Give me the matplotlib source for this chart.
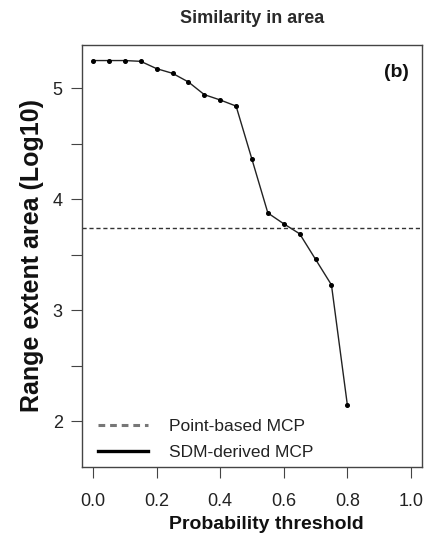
import matplotlib
matplotlib.use("Agg")
import matplotlib.pyplot as plt
from matplotlib.lines import Line2D

plt.rcParams['font.family'] = ['Liberation Sans', 'DejaVu Sans']

# Probability thresholds and SDM-derived MCP range extent (log10 area)
thresholds = [0.00, 0.05, 0.10, 0.15, 0.20, 0.25, 0.30, 0.35, 0.40, 0.45,
              0.50, 0.55, 0.60, 0.65, 0.70, 0.75, 0.80]
sdm_area = [5.25, 5.25, 5.25, 5.243, 5.177, 5.135, 5.057, 4.943, 4.895, 4.84,
            4.36, 3.877, 3.78, 3.69, 3.46, 3.23, 2.15]
# Point-based MCP range extent (log10 area)
point_mcp = 3.74

x_ticks = [0.0, 0.2, 0.4, 0.6, 0.8, 1.0]
x_tick_labels = ["0.0", "0.2", "0.4", "0.6", "0.8", "1.0"]
y_ticks = [2, 3, 4, 5]
y_minor = [2.5, 3.5, 4.5]
legend_labels = ["Point-based MCP", "SDM-derived MCP"]

fig = plt.figure(figsize=(4.24, 5.39), dpi=100)
ax = fig.add_axes([0.194, 0.1336, 0.8006, 0.7829])

ax.plot(thresholds, sdm_area, color='#222222', lw=1.0, marker='o', ms=2.6,
        mfc='black', mec='black')
ax.axhline(point_mcp, color='#333333', lw=1.0, ls=(0, (3, 2)))

ax.set_xlim(-0.034, 1.034)
ax.set_ylim(1.59, 5.39)
ax.set_xticks(x_ticks)
ax.set_xticklabels(x_tick_labels)
ax.set_yticks(y_ticks)
ax.set_yticks(y_minor, minor=True)
ax.tick_params(axis='both', which='both', direction='out', length=8, width=0.8,
               color='#444444', labelsize=13, labelcolor='#222222')
ax.tick_params(axis='x', pad=11)
ax.tick_params(axis='y', pad=6)
ax.tick_params(axis='y', which='minor', labelleft=False)
for s in ax.spines.values():
    s.set_color('#444444')
    s.set_linewidth(1.0)

ax.set_title("Similarity in area", fontsize=13, fontweight='bold', pad=16,
             color='#2a2a2a')
ax.set_xlabel("Probability threshold", fontsize=14, fontweight='bold',
              color='#111111')
ax.xaxis.set_label_coords(0.541, -0.115)
ax.set_ylabel("Range extent area (Log10)", fontsize=18, fontweight='bold',
              labelpad=6, color='#111111')

ax.text(0.927, 0.936, "(b)", transform=ax.transAxes, ha='center', va='center',
        fontsize=14, fontweight='bold', color='#111111')

handles = [Line2D([0], [0], color='#777777', lw=2.2, ls=(0, (2.2, 1.6))),
           Line2D([0], [0], color='black', lw=2.4)]
ax.legend(handles, legend_labels, loc='lower left', frameon=False, fontsize=12.5,
          handlelength=2.9, handletextpad=1.2, labelspacing=0.6,
          bbox_to_anchor=(0.0, -0.02), labelcolor='#222222')

fig.savefig("out.png", dpi=100)
